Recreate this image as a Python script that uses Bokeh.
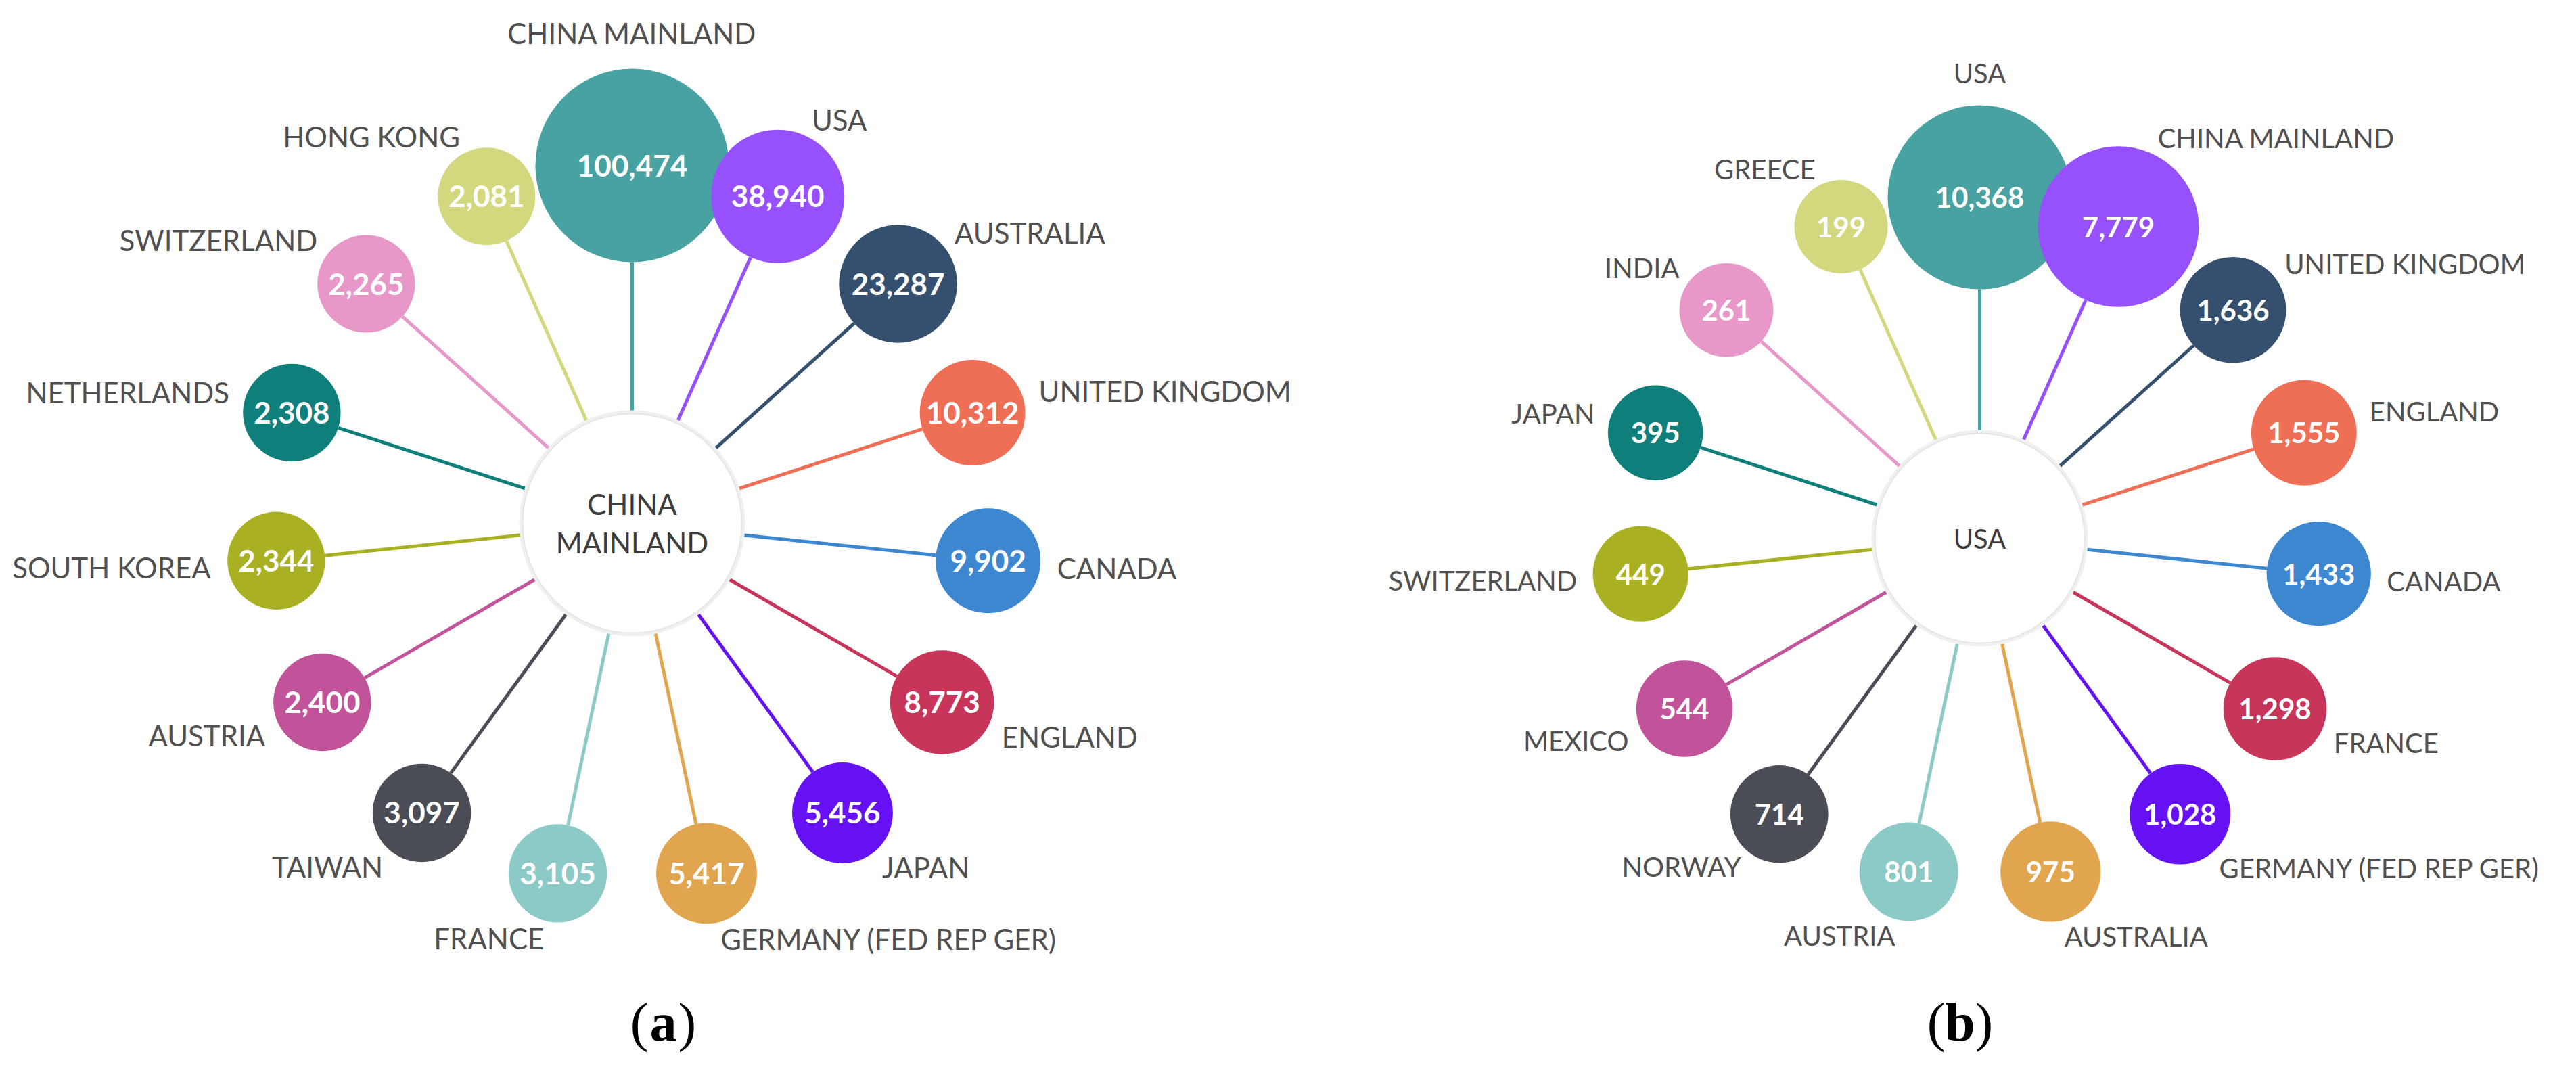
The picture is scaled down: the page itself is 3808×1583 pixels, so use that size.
import math
from bokeh.plotting import figure
from bokeh.models import Range1d, ColumnDataSource
from bokeh.core.properties import value
from bokeh.embed import file_html
from bokeh.resources import INLINE

# ---------------- data ----------------
a_focus = "CHINA MAINLAND"
a_partners = ["CHINA MAINLAND", "USA", "AUSTRALIA", "UNITED KINGDOM", "CANADA",
              "ENGLAND", "JAPAN", "GERMANY (FED REP GER)", "FRANCE", "TAIWAN",
              "AUSTRIA", "SOUTH KOREA", "NETHERLANDS", "SWITZERLAND", "HONG KONG"]
a_counts = [100474, 38940, 23287, 10312, 9902,
            8773, 5456, 5417, 3105, 3097,
            2400, 2344, 2308, 2265, 2081]

b_focus = "USA"
b_partners = ["USA", "CHINA MAINLAND", "UNITED KINGDOM", "ENGLAND", "CANADA",
              "FRANCE", "GERMANY (FED REP GER)", "AUSTRALIA", "AUSTRIA", "NORWAY",
              "MEXICO", "SWITZERLAND", "JAPAN", "INDIA", "GREECE"]
b_counts = [10368, 7779, 1636, 1555, 1433,
            1298, 1028, 975, 801, 714,
            544, 449, 395, 261, 199]

captions = ["a", "b"]

# ---------------- styles ----------------
palette = ["#47a2a1", "#9650fd", "#34506e", "#ee6f56", "#3d87d1",
           "#c8355b", "#6511f3", "#e2a54f", "#8ccac8", "#4a4d56",
           "#c1539a", "#a9b022", "#0e7f7a", "#e797c8", "#d3d77d"]

LABEL_FONT = value("Lato")
LABEL_COLOR = "#505050"

W, H = 3792, 1567
p = figure(width=W, height=H, output_backend="svg", toolbar_location=None,
           x_range=Range1d(8, 8 + W), y_range=Range1d(8 + H, 8),
           min_border=0, background_fill_color="white", border_fill_color="white")
p.axis.visible = False
p.grid.visible = False
p.outline_line_color = None


def draw_panel(names, counts, focus, cx, cy, D, hub_r, rmin, rmax,
               fs_label, fs_value, fs_hub, pad, top_extra):
    n = len(names)
    vmin, vmax = min(counts), max(counts)
    th = [2 * math.pi * i / n for i in range(n)]
    ux = [math.sin(t) for t in th]
    uy = [-math.cos(t) for t in th]
    r = [rmin + (v - vmin) / (vmax - vmin) * (rmax - rmin) for v in counts]
    bx = [cx + D * u for u in ux]
    by = [cy + D * u for u in uy]
    cols = palette[:n]

    # connecting lines
    seg = ColumnDataSource(dict(
        x0=[cx + hub_r * u for u in ux], y0=[cy + hub_r * u for u in uy],
        x1=[bx[i] - r[i] * ux[i] for i in range(n)],
        y1=[by[i] - r[i] * uy[i] for i in range(n)], c=cols))
    p.segment("x0", "y0", "x1", "y1", source=seg, line_color="c", line_width=5)

    # hub
    p.circle([cx], [cy], radius=hub_r + 5, fill_color="#f0f0f0", line_color=None)
    p.circle([cx], [cy], radius=hub_r, fill_color="white", line_color="#e6e6e6",
             line_width=2)
    words = focus.split(" ")
    if len(words) == 1:
        p.text([cx], [cy], text=words, text_align="center", text_baseline="middle",
               text_font=LABEL_FONT, text_font_size=f"{fs_hub}px", text_color="#3c3c3c")
    else:
        lh = fs_hub * 1.36
        ys = [cy + (k - (len(words) - 1) / 2) * lh for k in range(len(words))]
        p.text([cx] * len(words), ys, text=words, text_align="center",
               text_baseline="middle", text_font=LABEL_FONT,
               text_font_size=f"{fs_hub}px", text_color="#3c3c3c")

    # bubbles
    bub = ColumnDataSource(dict(x=bx, y=by, r=r, c=cols,
                                t=[f"{v:,}" for v in counts]))
    p.circle("x", "y", radius="r", source=bub, fill_color="c", line_color=None)
    p.text("x", "y", text="t", source=bub, text_align="center", text_baseline="middle",
           text_font=LABEL_FONT, text_font_style="bold",
           text_font_size=f"{fs_value}px", text_color="white")

    # outer labels, grouped by alignment
    groups = {}
    for i in range(n):
        s, c = ux[i], -uy[i]
        d = r[i] + pad + (top_extra if c > 0.99 else 0)
        lx, ly = bx[i] + d * ux[i], by[i] + d * uy[i]
        al = "left" if s > 0.1 else ("right" if s < -0.1 else "center")
        bl = "alphabetic" if c > 0.2 else "middle"
        g = groups.setdefault((al, bl), dict(x=[], y=[], t=[]))
        g["x"].append(lx)
        g["y"].append(ly)
        g["t"].append(names[i])
    for (al, bl), g in groups.items():
        p.text(g["x"], g["y"], text=g["t"], text_align=al, text_baseline=bl,
               text_font=LABEL_FONT, text_font_size=f"{fs_label}px",
               text_color=LABEL_COLOR)


draw_panel(a_partners, a_counts, a_focus, cx=942, cy=781, D=529, hub_r=162,
           rmin=72, rmax=143, fs_label=42, fs_value=44, fs_hub=42, pad=25, top_extra=28)
draw_panel(b_partners, b_counts, b_focus, cx=2934, cy=803, D=504, hub_r=155,
           rmin=69, rmax=136, fs_label=40, fs_value=42, fs_hub=40, pad=24, top_extra=24)

# captions (a), (b)
cap_x = [988, 2905]
cap_y = 1518
CAP_FONT = value("Liberation Serif")
p.text(cap_x, [cap_y] * 2, text=captions, text_align="center", text_baseline="middle",
       text_font=CAP_FONT, text_font_style="bold", text_font_size="80px", text_color="black")
p.text([x - 22 for x in cap_x], [cap_y] * 2, text=["(", "("], text_align="right",
       text_baseline="middle", text_font=CAP_FONT, text_font_size="80px",
       text_color="black")
p.text([x + 22 for x in cap_x], [cap_y] * 2, text=[")", ")"], text_align="left",
       text_baseline="middle", text_font=CAP_FONT, text_font_size="80px",
       text_color="black")

open("out.html", "w").write(file_html(p, INLINE))
